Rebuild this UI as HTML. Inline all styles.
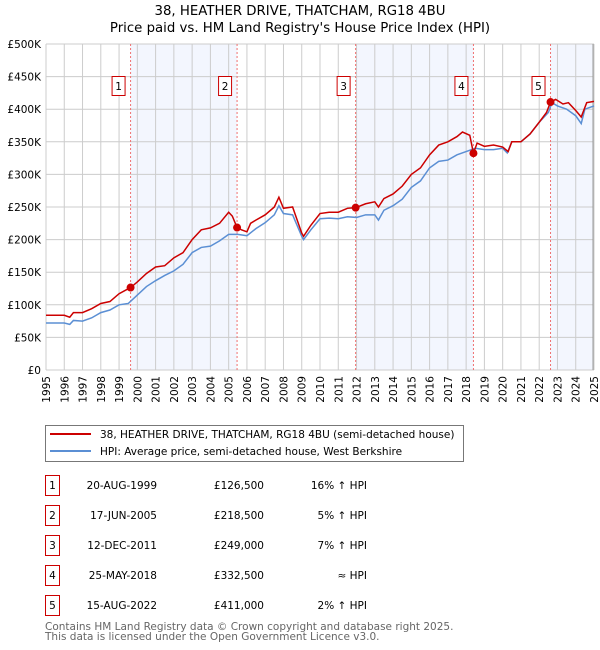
<!DOCTYPE html>
<html><head><meta charset="utf-8"><style>
body{margin:0;background:#fff}
svg{display:block;font-family:"DejaVu Sans","Liberation Sans",sans-serif}
</style></head><body>
<svg id="c" width="600" height="650" viewBox="0 0 600 650">
<text x="300" y="15" text-anchor="middle" font-size="13.3" fill="#000">38, HEATHER DRIVE, THATCHAM, RG18 4BU</text>
<text x="300" y="32" text-anchor="middle" font-size="13.3" fill="#000">Price paid vs. HM Land Registry's House Price Index (HPI)</text>
<g id="bands"></g><g id="grid"></g><g id="marks"></g><g id="axes"></g>
<g>
<rect x="45.5" y="425.5" width="418" height="36" fill="#fff" stroke="#777"/>
<line x1="50" y1="434" x2="91" y2="434" stroke="#cc0000" stroke-width="2"/>
<text x="100" y="438" font-size="10.5">38, HEATHER DRIVE, THATCHAM, RG18 4BU (semi-detached house)</text>
<line x1="50" y1="451" x2="91" y2="451" stroke="#5b8fd4" stroke-width="2"/>
<text x="100" y="455" font-size="10.5">HPI: Average price, semi-detached house, West Berkshire</text>
</g>
<g id="table"></g>
<text x="45" y="630" font-size="10.5" fill="#666">Contains HM Land Registry data © Crown copyright and database right 2025.</text>
<text x="45" y="640" font-size="10.5" fill="#666">This data is licensed under the Open Government Licence v3.0.</text>
</svg>
<script>
const yearTicks=[1995,1996,1997,1998,1999,2000,2001,2002,2003,2004,2005,2006,2007,2008,2009,2010,2011,2012,2013,2014,2015,2016,2017,2018,2019,2020,2021,2022,2023,2024,2025];
const priceTicks=[0,50,100,150,200,250,300,350,400,450,500];
const priceLabels=["£0","£50K","£100K","£150K","£200K","£250K","£300K","£350K","£400K","£450K","£500K"];
const hpiT=[1995,1996,1996.3,1996.5,1997,1997.5,1998,1998.5,1999,1999.5,2000,2000.5,2001,2001.5,2002,2002.5,2003,2003.5,2004,2004.5,2005,2005.5,2006,2006.5,2007,2007.5,2007.75,2008,2008.5,2009,2009.1,2009.5,2010,2010.5,2011,2011.5,2012,2012.5,2013,2013.2,2013.5,2014,2014.5,2015,2015.5,2016,2016.5,2017,2017.5,2018,2018.5,2019,2019.5,2020,2020.25,2020.5,2021,2021.5,2022,2022.5,2022.7,2023,2023.5,2024,2024.3,2024.5,2025];
const hpiV=[72,72,70,76,75,80,88,92,100,102,115,128,137,145,152,162,180,188,190,198,208,208,206,217,226,238,252,240,238,205,200,215,232,233,232,235,234,238,238,230,245,252,262,280,290,310,320,322,330,335,340,338,338,340,333,350,350,362,380,395,410,405,400,390,378,400,405];
const redT=[1995,1996,1996.3,1996.5,1997,1997.5,1998,1998.5,1999,1999.63,2000,2000.5,2001,2001.5,2002,2002.5,2003,2003.5,2004,2004.5,2005,2005.2,2005.46,2005.7,2006,2006.2,2006.5,2007,2007.5,2007.75,2008,2008.5,2009,2009.1,2009.5,2010,2010.5,2011,2011.5,2011.95,2012.5,2013,2013.2,2013.5,2014,2014.5,2015,2015.5,2016,2016.5,2017,2017.5,2017.8,2018.2,2018.4,2018.6,2019,2019.5,2020,2020.3,2020.5,2021,2021.5,2022,2022.4,2022.62,2022.9,2023.3,2023.6,2024,2024.3,2024.6,2025];
const redV=[84,84,81,88,88,94,102,105,117,126.5,135,148,158,160,172,180,200,215,218,225,242,236,218.5,215,212,225,230,238,250,265,248,250,210,205,222,240,242,242,248,249,255,258,250,263,270,282,300,310,330,345,350,358,365,360,332.5,348,343,345,342,335,350,350,362,380,395,411,415,408,410,398,388,410,412];
const saleLabels=["1","2","3","4","5"];
const saleT=[1999.63,2005.46,2011.95,2018.4,2022.62];
const saleV=[126.5,218.5,249,332.5,411];
const saleDates=["20-AUG-1999","17-JUN-2005","12-DEC-2011","25-MAY-2018","15-AUG-2022"];
const salePrices=["£126,500","£218,500","£249,000","£332,500","£411,000"];
const saleHpi=["16% ↑ HPI","5% ↑ HPI","7% ↑ HPI","≈ HPI","2% ↑ HPI"];
const NS="http://www.w3.org/2000/svg";
const X0=46,X1=594,Y0=370,Y1=44;
const xs=t=>X0+(t-1995)/30*(X1-X0);
const ys=v=>Y0-v/500*(Y0-Y1);
function mk(p,tag,a){const e=document.createElementNS(NS,tag);for(const k in a)e.setAttribute(k,a[k]);p.appendChild(e);return e;}
const bands=document.getElementById('bands'),grid=document.getElementById('grid'),marks=document.getElementById('marks'),axes=document.getElementById('axes'),table=document.getElementById('table');
[[0,1],[2,3]].forEach(([a,b])=>{const r=mk(bands,'rect',{x:xs(saleT[a]),y:Y1,width:xs(saleT[b])-xs(saleT[a]),height:Y0-Y1,fill:'#f3f6fe'});

});
{const r=mk(bands,'rect',{x:xs(saleT[4]),y:Y1,width:X1-xs(saleT[4]),height:Y0-Y1,fill:'#f3f6fe'});

}
yearTicks.forEach(t=>{const l=mk(grid,'line',{x1:xs(t),x2:xs(t),y1:Y1,y2:Y0,stroke:'#cccccc','stroke-width':1});


const tx=mk(axes,'text',{x:0,y:0,'font-size':10.5,'text-anchor':'end',transform:`translate(${xs(t)+4},${Y0+6}) rotate(-90)`});tx.textContent=t;

});
priceTicks.forEach((v,i)=>{const l=mk(grid,'line',{x1:X0,x2:X1,y1:ys(v),y2:ys(v),stroke:'#cccccc','stroke-width':1});


const tx=mk(axes,'text',{x:41,y:ys(v)+4,'font-size':10.5,'text-anchor':'end'});tx.textContent=priceLabels[i];

});
{const l=mk(grid,'line',{x1:X1-1,x2:X1-1,y1:Y1,y2:Y0,stroke:'#999','stroke-width':1});

}
saleT.forEach((t,i)=>{const l=mk(marks,'line',{x1:xs(t),x2:xs(t),y1:Y1,y2:Y0,stroke:'#f07070','stroke-width':1,'stroke-dasharray':'2,2'});

});
const hp=mk(marks,'polyline',{points:hpiT.map((t,i)=>xs(t)+','+ys(hpiV[i])).join(' '),fill:'none',stroke:'#5b8fd4','stroke-width':1.5});


const rp=mk(marks,'polyline',{points:redT.map((t,i)=>xs(t)+','+ys(redV[i])).join(' '),fill:'none',stroke:'#cc0000','stroke-width':1.5});


saleT.forEach((t,i)=>{const c=mk(marks,'circle',{cx:xs(t),cy:ys(saleV[i]),r:4,fill:'#cc0000'});


const g=mk(marks,'g',{});


mk(g,'rect',{x:xs(t)-18.5,y:76.5,width:13,height:19,fill:'#fff',stroke:'#cc0000'});
const tx=mk(g,'text',{x:xs(t)-12,y:90,'font-size':10.5,'text-anchor':'middle'});tx.textContent=saleLabels[i];
const yy=475+i*30;
const row=mk(table,'g',{});


mk(row,'rect',{x:45.5,y:yy+0.5,width:14,height:20,fill:'#fff',stroke:'#cc0000'});
const n=mk(row,'text',{x:52.5,y:yy+14,'font-size':10.5,'text-anchor':'middle'});n.textContent=saleLabels[i];
const d=mk(row,'text',{x:157,y:yy+14,'font-size':10.5,'text-anchor':'end'});d.textContent=saleDates[i];
const p=mk(row,'text',{x:264,y:yy+14,'font-size':10.5,'text-anchor':'end'});p.textContent=salePrices[i];
const h=mk(row,'text',{x:367,y:yy+14,'font-size':10.5,'text-anchor':'end'});h.textContent=saleHpi[i];});
</script>
</body></html>
